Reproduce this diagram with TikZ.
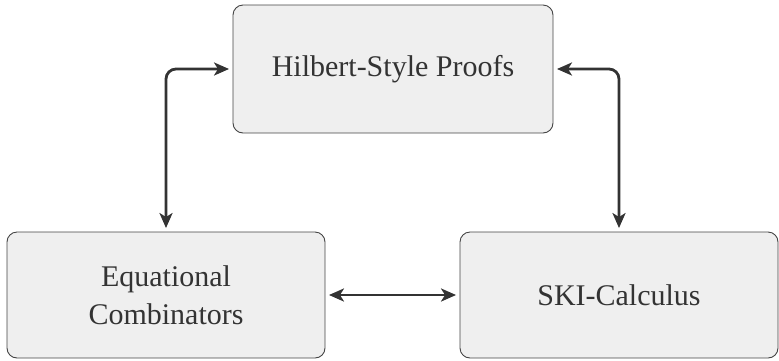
\documentclass[tikz,border=0pt]{standalone}
\usepackage{fontspec}
\setmainfont{Liberation Serif}
\usetikzlibrary{arrows.meta}
\definecolor{boxfill}{HTML}{EFEFEF}
\definecolor{boxline}{HTML}{444444}
\definecolor{arrowcol}{HTML}{333333}
\begin{document}
\begin{tikzpicture}[x=1pt,y=-1pt,
  box/.style={draw=boxline, line width=0.9pt, fill=boxfill, rounded corners=10pt,
    minimum width=#1, align=center, inner sep=0pt, text=arrowcol,
    font=\fontsize{30}{38}\selectfont},
  box/.default=320pt,
  tip/.style={Stealth[length=15pt,width=13pt,inset=4pt]},
  conn/.style={draw=arrowcol, line width=2.8pt, rounded corners=10pt,
    {Stealth[length=15pt,width=13pt,inset=4pt]}-{Stealth[length=15pt,width=13pt,inset=4pt]},
    shorten <=3.5pt, shorten >=3.5pt}]
\useasboundingbox (0,0) rectangle (779,360);
\node[box, minimum height=128pt] (hil) at (393,69) {Hilbert-Style Proofs};
\node[box=318pt, minimum height=126pt] (eq) at (166,295) {Equational\\Combinators};
\node[box=318pt, minimum height=126pt] (ski) at (619,295) {SKI-Calculus};
\draw[conn] (hil.west) -| (eq.north);
\draw[conn] (hil.east) -| (ski.north);
\draw[conn] (eq.east) -- (ski.west);
\end{tikzpicture}
\end{document}
